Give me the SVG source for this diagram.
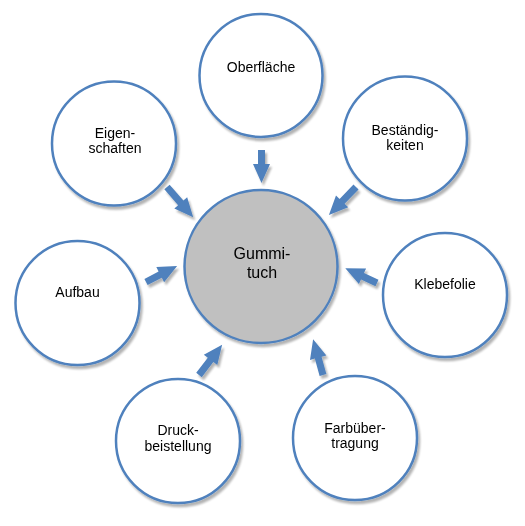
<svg xmlns="http://www.w3.org/2000/svg" width="525" height="526" viewBox="0 0 525 526">
<defs>
<filter id="sh" x="-20%" y="-20%" width="140%" height="140%">
<feGaussianBlur in="SourceAlpha" stdDeviation="1"/>
<feOffset dx="1.5" dy="2.5" result="o"/>
<feComponentTransfer><feFuncA type="linear" slope="0.3"/></feComponentTransfer>
<feMerge><feMergeNode/><feMergeNode in="SourceGraphic"/></feMerge>
</filter>
</defs>
<style>
.c{fill:#ffffff;stroke:#4f81bd;stroke-width:2.5}
.m{fill:#c0c0c0;stroke:#4f81bd;stroke-width:2.5}
.t{font-family:"Liberation Sans",Arial,sans-serif;font-size:14px;fill:#000;text-anchor:middle}
.tm{font-family:"Liberation Sans",Arial,sans-serif;font-size:16px;fill:#000;text-anchor:middle}
.a{fill:#4f81bd}
</style>
<rect width="525" height="526" fill="#ffffff"/>
<g id="connectors" filter="url(#sh)">
<path class="a" transform="translate(261.5,150) rotate(90)" d="M0,-3.5 H14 V-8.5 L33,0 L14,8.5 V3.5 H0 Z"/>
<path class="a" transform="translate(356,187) rotate(134)" d="M0,-3.5 H20 V-8.5 L39,0 L20,8.5 V3.5 H0 Z"/>
<path class="a" transform="translate(377,283) rotate(205.1)" d="M0,-3.5 H16 V-8.5 L35,0 L16,8.5 V3.5 H0 Z"/>
<path class="a" transform="translate(323,375) rotate(-105.5)" d="M0,-3.5 H18 V-8.5 L37,0 L18,8.5 V3.5 H0 Z"/>
<path class="a" transform="translate(199,375) rotate(-52.5)" d="M0,-3.5 H19 V-8.5 L38,0 L19,8.5 V3.5 H0 Z"/>
<path class="a" transform="translate(146,282) rotate(-27.3)" d="M0,-3.5 H16 V-8.5 L35,0 L16,8.5 V3.5 H0 Z"/>
<path class="a" transform="translate(167,187) rotate(49.1)" d="M0,-3.5 H21 V-8.5 L40,0 L21,8.5 V3.5 H0 Z"/>
</g>
<g id="center" filter="url(#sh)">
<circle class="m" cx="261" cy="266.5" r="76.5"/>
<text class="tm" x="262" y="259">Gummi-</text>
<text class="tm" x="262" y="278">tuch</text>
</g>
<g id="oberflaeche" filter="url(#sh)">
<circle class="c" cx="261" cy="75.5" r="61.5"/>
<text class="t" x="261" y="72">Oberfläche</text>
</g>
<g id="bestaendigkeiten" filter="url(#sh)">
<circle class="c" cx="405" cy="138.5" r="62"/>
<text class="t" x="405" y="135">Beständig-</text>
<text class="t" x="405" y="150">keiten</text>
</g>
<g id="klebefolie" filter="url(#sh)">
<circle class="c" cx="445" cy="295" r="62"/>
<text class="t" x="445" y="289">Klebefolie</text>
</g>
<g id="farbuebertragung" filter="url(#sh)">
<circle class="c" cx="355" cy="438" r="62"/>
<text class="t" x="355" y="433">Farbüber-</text>
<text class="t" x="355" y="448">tragung</text>
</g>
<g id="druckbeistellung" filter="url(#sh)">
<circle class="c" cx="178" cy="441" r="62"/>
<text class="t" x="178" y="435">Druck-</text>
<text class="t" x="178" y="451">beistellung</text>
</g>
<g id="aufbau" filter="url(#sh)">
<circle class="c" cx="77.5" cy="303" r="62"/>
<text class="t" x="77.5" y="297">Aufbau</text>
</g>
<g id="eigenschaften" filter="url(#sh)">
<circle class="c" cx="114" cy="143.5" r="62"/>
<text class="t" x="115" y="138">Eigen-</text>
<text class="t" x="115" y="153">schaften</text>
</g>
</svg>
